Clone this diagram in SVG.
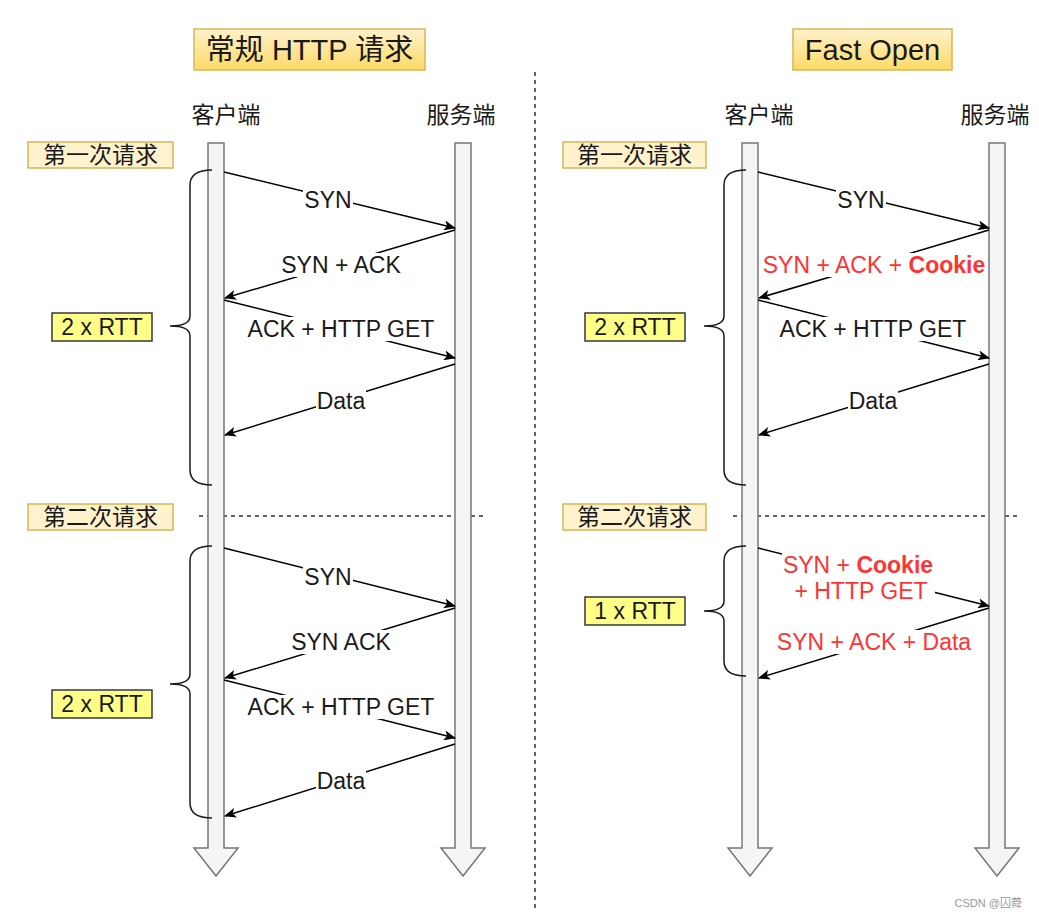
<svg xmlns="http://www.w3.org/2000/svg" width="1039" height="918" viewBox="0 0 1039 918">
<defs>
<linearGradient id="gold" x1="0" y1="0" x2="0" y2="1"><stop offset="0" stop-color="#fff2cc"/><stop offset="1" stop-color="#ffd966"/></linearGradient>
<marker id="ah" viewBox="0 0 12 10" refX="11" refY="5" markerWidth="12" markerHeight="10" markerUnits="userSpaceOnUse" orient="auto"><path d="M0,0 L12,5 L0,10 L3,5 Z" fill="#000"/></marker>
</defs>
<style>
text{font-family:"Liberation Sans","Noto Sans CJK SC",sans-serif;fill:#1a1a1a}
.t{font-size:29px;text-anchor:middle}
.h{font-size:23px;text-anchor:middle}
.l{font-size:23px;text-anchor:middle}
.r{fill:#ff3333}
.bg{fill:#fff}
.title{fill:url(#gold);stroke:#d6b656;stroke-width:1.5}
.phase{fill:#fff2cc;stroke:#d6b656;stroke-width:1.5}
.rtt{fill:#ffff88;stroke:#36393d;stroke-width:1.5}
.life{fill:#f5f5f5;stroke:#777;stroke-width:1.5}
.msg{stroke:#000;stroke-width:1.5;fill:none;marker-end:url(#ah)}
.brace{stroke:#1a1a1a;stroke-width:1.5;fill:none}
.dash{stroke:#333;stroke-width:1.5;stroke-dasharray:4 4;fill:none}
</style>

<g id="dividers">
<line class="dash" x1="535" y1="72" x2="535" y2="908"/>
<line class="dash" x1="199" y1="516" x2="487" y2="516"/>
<line class="dash" x1="733" y1="516" x2="1021" y2="516"/>
</g>

<g id="title-left"><rect class="title" x="194" y="29" width="231" height="41"/><text class="t" x="309.5" y="60">常规 HTTP 请求</text></g>
<g id="title-right"><rect class="title" x="793" y="29" width="159" height="41"/><text class="t" x="872.5" y="60">Fast Open</text></g>

<g id="hdr-left-client"><text class="h" x="226" y="123">客户端</text></g>
<g id="hdr-left-server"><text class="h" x="461" y="123">服务端</text></g>
<g id="hdr-right-client"><text class="h" x="759" y="123">客户端</text></g>
<g id="hdr-right-server"><text class="h" x="995" y="123">服务端</text></g>

<g id="life-left-client"><path class="life" d="M208,143 H224 V848 H238 L216,876 L194,848 H208 Z"/></g>
<g id="life-left-server"><path class="life" d="M455,143 H471 V848 H485 L463,876 L441,848 H455 Z"/></g>
<g id="life-right-client"><path class="life" d="M742,143 H758 V848 H772 L750,876 L728,848 H742 Z"/></g>
<g id="life-right-server"><path class="life" d="M989,143 H1005 V848 H1019 L997,876 L975,848 H989 Z"/></g>

<g id="phase-l1"><rect class="phase" x="28" y="142" width="145" height="26"/><text class="h" x="100.5" y="163">第一次请求</text></g>
<g id="phase-l2"><rect class="phase" x="28" y="504" width="145" height="26"/><text class="h" x="100.5" y="525">第二次请求</text></g>
<g id="phase-r1"><rect class="phase" x="563" y="142" width="143" height="26"/><text class="h" x="634.5" y="163">第一次请求</text></g>
<g id="phase-r2"><rect class="phase" x="563" y="504" width="143" height="26"/><text class="h" x="634.5" y="525">第二次请求</text></g>

<g id="braces">
<path class="brace" d="M212,170 Q190,170 190,185 L190,316 Q190,326 170,326 Q190,326 190,336 L190,470 Q190,485 212,485"/>
<path class="brace" d="M212,546 Q190,546 190,561 L190,674 Q190,684 170,684 Q190,684 190,694 L190,803 Q190,818 212,818"/>
<path class="brace" d="M746,170 Q724,170 724,185 L724,316 Q724,326 704,326 Q724,326 724,336 L724,470 Q724,485 746,485"/>
<path class="brace" d="M746,546 Q724,546 724,561 L724,601 Q724,611 704,611 Q724,611 724,621 L724,661 Q724,676 746,676"/>
</g>

<g id="rtt-l1"><rect class="rtt" x="52" y="313" width="100" height="28"/><text class="h" x="102" y="335">2 x RTT</text></g>
<g id="rtt-l2"><rect class="rtt" x="52" y="690" width="100" height="28"/><text class="h" x="102" y="712">2 x RTT</text></g>
<g id="rtt-r1"><rect class="rtt" x="585" y="313" width="100" height="28"/><text class="h" x="635" y="335">2 x RTT</text></g>
<g id="rtt-r2"><rect class="rtt" x="585" y="597" width="100" height="28"/><text class="h" x="635" y="619">1 x RTT</text></g>

<g id="connectors">
<line class="msg" x1="224" y1="172" x2="455" y2="228"/>
<line class="msg" x1="455" y1="230" x2="225" y2="298"/>
<line class="msg" x1="224" y1="300" x2="455" y2="358"/>
<line class="msg" x1="455" y1="364" x2="225" y2="435"/>
<line class="msg" x1="224" y1="548" x2="455" y2="606"/>
<line class="msg" x1="455" y1="608" x2="225" y2="678"/>
<line class="msg" x1="224" y1="680" x2="455" y2="738"/>
<line class="msg" x1="455" y1="744" x2="225" y2="816"/>
<line class="msg" x1="758" y1="172" x2="989" y2="228"/>
<line class="msg" x1="989" y1="230" x2="759" y2="298"/>
<line class="msg" x1="758" y1="300" x2="989" y2="358"/>
<line class="msg" x1="989" y1="364" x2="759" y2="435"/>
<line class="msg" x1="758" y1="548" x2="989" y2="606"/>
<line class="msg" x1="989" y1="608" x2="759" y2="678"/>
</g>

<g id="labels">
<rect class="bg" x="303" y="188" width="50" height="24"/><text class="l" x="328" y="208">SYN</text>
<rect class="bg" x="279" y="253" width="124" height="24"/><text class="l" x="341" y="273">SYN + ACK</text>
<rect class="bg" x="246" y="317" width="190" height="24"/><text class="l" x="341" y="337">ACK + HTTP GET</text>
<rect class="bg" x="316" y="389" width="50" height="24"/><text class="l" x="341" y="409">Data</text>
<rect class="bg" x="303" y="565" width="50" height="24"/><text class="l" x="328" y="585">SYN</text>
<rect class="bg" x="289" y="630" width="104" height="24"/><text class="l" x="341" y="650">SYN ACK</text>
<rect class="bg" x="246" y="695" width="190" height="24"/><text class="l" x="341" y="715">ACK + HTTP GET</text>
<rect class="bg" x="316" y="769" width="50" height="24"/><text class="l" x="341" y="789">Data</text>
<rect class="bg" x="836" y="188" width="50" height="24"/><text class="l" x="861" y="208">SYN</text>
<rect class="bg" x="761" y="253" width="226" height="24"/><text class="l r" x="874" y="273">SYN + ACK + <tspan font-weight="bold">Cookie</tspan></text>
<rect class="bg" x="778" y="317" width="190" height="24"/><text class="l" x="873" y="337">ACK + HTTP GET</text>
<rect class="bg" x="848" y="389" width="50" height="24"/><text class="l" x="873" y="409">Data</text>
<rect class="bg" x="782" y="553" width="153" height="50"/><text class="l r" x="858" y="573">SYN + <tspan font-weight="bold">Cookie</tspan></text>
<text class="l r" x="861" y="599">+ HTTP GET</text>
<rect class="bg" x="775" y="630" width="199" height="24"/><text class="l r" x="874" y="650">SYN + ACK + Data</text>
</g>

<g id="watermark"><text x="1022" y="907" style="font-size:11px;fill:#999;text-anchor:end">CSDN @囚蕣</text></g>
</svg>
